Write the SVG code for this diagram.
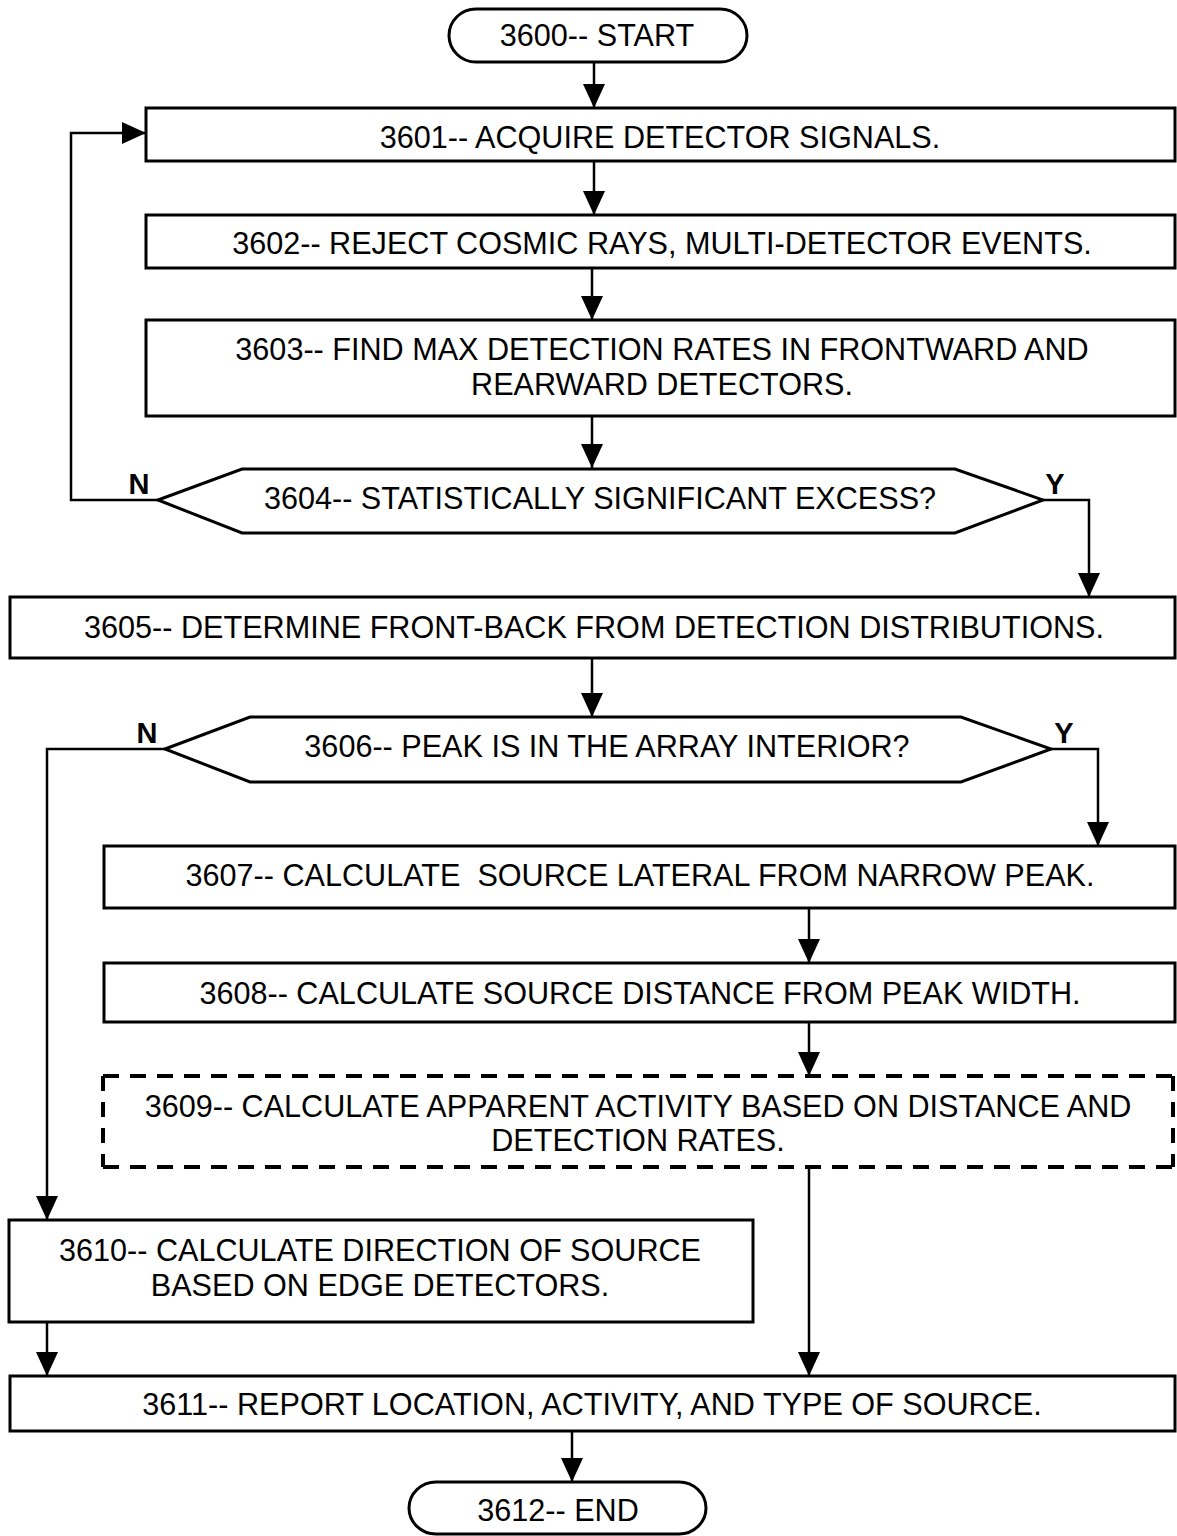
<svg xmlns="http://www.w3.org/2000/svg" width="1177" height="1536" viewBox="0 0 1177 1536">
<defs>
<marker id="ah" markerUnits="userSpaceOnUse" markerWidth="24" markerHeight="28" refX="24" refY="11" orient="auto">
<path d="M0,0 L24,11 L0,22 z" fill="#000"/>
</marker>
<style>
.box{fill:#fff;stroke:#000;stroke-width:3}
.dash{fill:none;stroke:#000;stroke-width:4}
.t{font-family:"Liberation Sans",Arial,sans-serif;font-size:30.6px;fill:#000;text-anchor:middle;white-space:pre}
.yn{font-family:"Liberation Sans",Arial,sans-serif;font-size:29px;font-weight:bold;fill:#000;text-anchor:middle}
.c{fill:none;stroke:#000;stroke-width:2.5;marker-end:url(#ah)}
</style>
</defs>
<rect width="1177" height="1536" fill="#fff"/>
<g id="connectors">
<path class="c" d="M594,62 V108"/>
<path class="c" d="M594,161 V215"/>
<path class="c" d="M592,268 V320"/>
<path class="c" d="M592,416 V468"/>
<path class="c" d="M158,500 H71 V133 H146"/>
<path class="c" d="M1043,500 H1089 V597"/>
<path class="c" d="M592,658 V717"/>
<path class="c" d="M165,749 H47 V1220"/>
<path class="c" d="M1051,749 H1098 V846"/>
<path class="c" d="M809,908 V963"/>
<path class="c" d="M809,1022 V1076"/>
<path class="c" d="M809,1167 V1376"/>
<path class="c" d="M47,1322 V1376"/>
<path class="c" d="M572,1431 V1482"/>
</g>
<g id="n3600">
<rect class="box" x="449" y="9" width="298" height="53" rx="27" ry="27"/>
<text class="t" x="597" y="46">3600-- START</text>
</g>
<g id="n3601">
<rect class="box" x="146" y="108" width="1029" height="53"/>
<text class="t" x="660" y="148">3601-- ACQUIRE DETECTOR SIGNALS.</text>
</g>
<g id="n3602">
<rect class="box" x="146" y="215" width="1029" height="53"/>
<text class="t" x="662" y="254">3602-- REJECT COSMIC RAYS, MULTI-DETECTOR EVENTS.</text>
</g>
<g id="n3603">
<rect class="box" x="146" y="320" width="1029" height="96"/>
<text class="t" x="662" y="360">3603-- FIND MAX DETECTION RATES IN FRONTWARD AND</text>
<text class="t" x="662" y="395">REARWARD DETECTORS.</text>
</g>
<g id="n3604">
<polygon class="box" points="158,500 242,469 955,469 1043,500 955,533 242,533"/>
<text class="t" x="600" y="509">3604-- STATISTICALLY SIGNIFICANT EXCESS?</text>
<text class="yn" x="139" y="494">N</text>
<text class="yn" x="1055" y="494">Y</text>
</g>
<g id="n3605">
<rect class="box" x="10" y="597" width="1165" height="61"/>
<text class="t" x="594" y="638">3605-- DETERMINE FRONT-BACK FROM DETECTION DISTRIBUTIONS.</text>
</g>
<g id="n3606">
<polygon class="box" points="165,749 250,717 961,717 1051,749 961,782 250,782"/>
<text class="t" x="607" y="757">3606-- PEAK IS IN THE ARRAY INTERIOR?</text>
<text class="yn" x="147" y="743">N</text>
<text class="yn" x="1064" y="743">Y</text>
</g>
<g id="n3607">
<rect class="box" x="104" y="846" width="1071" height="62"/>
<text class="t" x="640" y="886">3607-- CALCULATE  SOURCE LATERAL FROM NARROW PEAK.</text>
</g>
<g id="n3608">
<rect class="box" x="104" y="963" width="1071" height="59"/>
<text class="t" x="640" y="1004">3608-- CALCULATE SOURCE DISTANCE FROM PEAK WIDTH.</text>
</g>
<g id="n3609">
<rect x="103" y="1076" width="1070" height="91" fill="#fff"/>
<path class="dash" stroke-dasharray="16 11" d="M103,1076 H1173 M103,1167 H1173"/>
<path class="dash" stroke-dasharray="15 11" d="M103,1076 V1167 M1173,1076 V1167"/>
<text class="t" x="638" y="1117">3609-- CALCULATE APPARENT ACTIVITY BASED ON DISTANCE AND</text>
<text class="t" x="638" y="1151">DETECTION RATES.</text>
</g>
<g id="n3610">
<rect class="box" x="9" y="1220" width="744" height="102"/>
<text class="t" x="380" y="1261">3610-- CALCULATE DIRECTION OF SOURCE</text>
<text class="t" x="380" y="1296">BASED ON EDGE DETECTORS.</text>
</g>
<g id="n3611">
<rect class="box" x="10" y="1376" width="1165" height="55"/>
<text class="t" x="592" y="1415">3611-- REPORT LOCATION, ACTIVITY, AND TYPE OF SOURCE.</text>
</g>
<g id="n3612">
<rect class="box" x="409" y="1482" width="297" height="52" rx="27" ry="26"/>
<text class="t" x="558" y="1521">3612-- END</text>
</g>
</svg>
